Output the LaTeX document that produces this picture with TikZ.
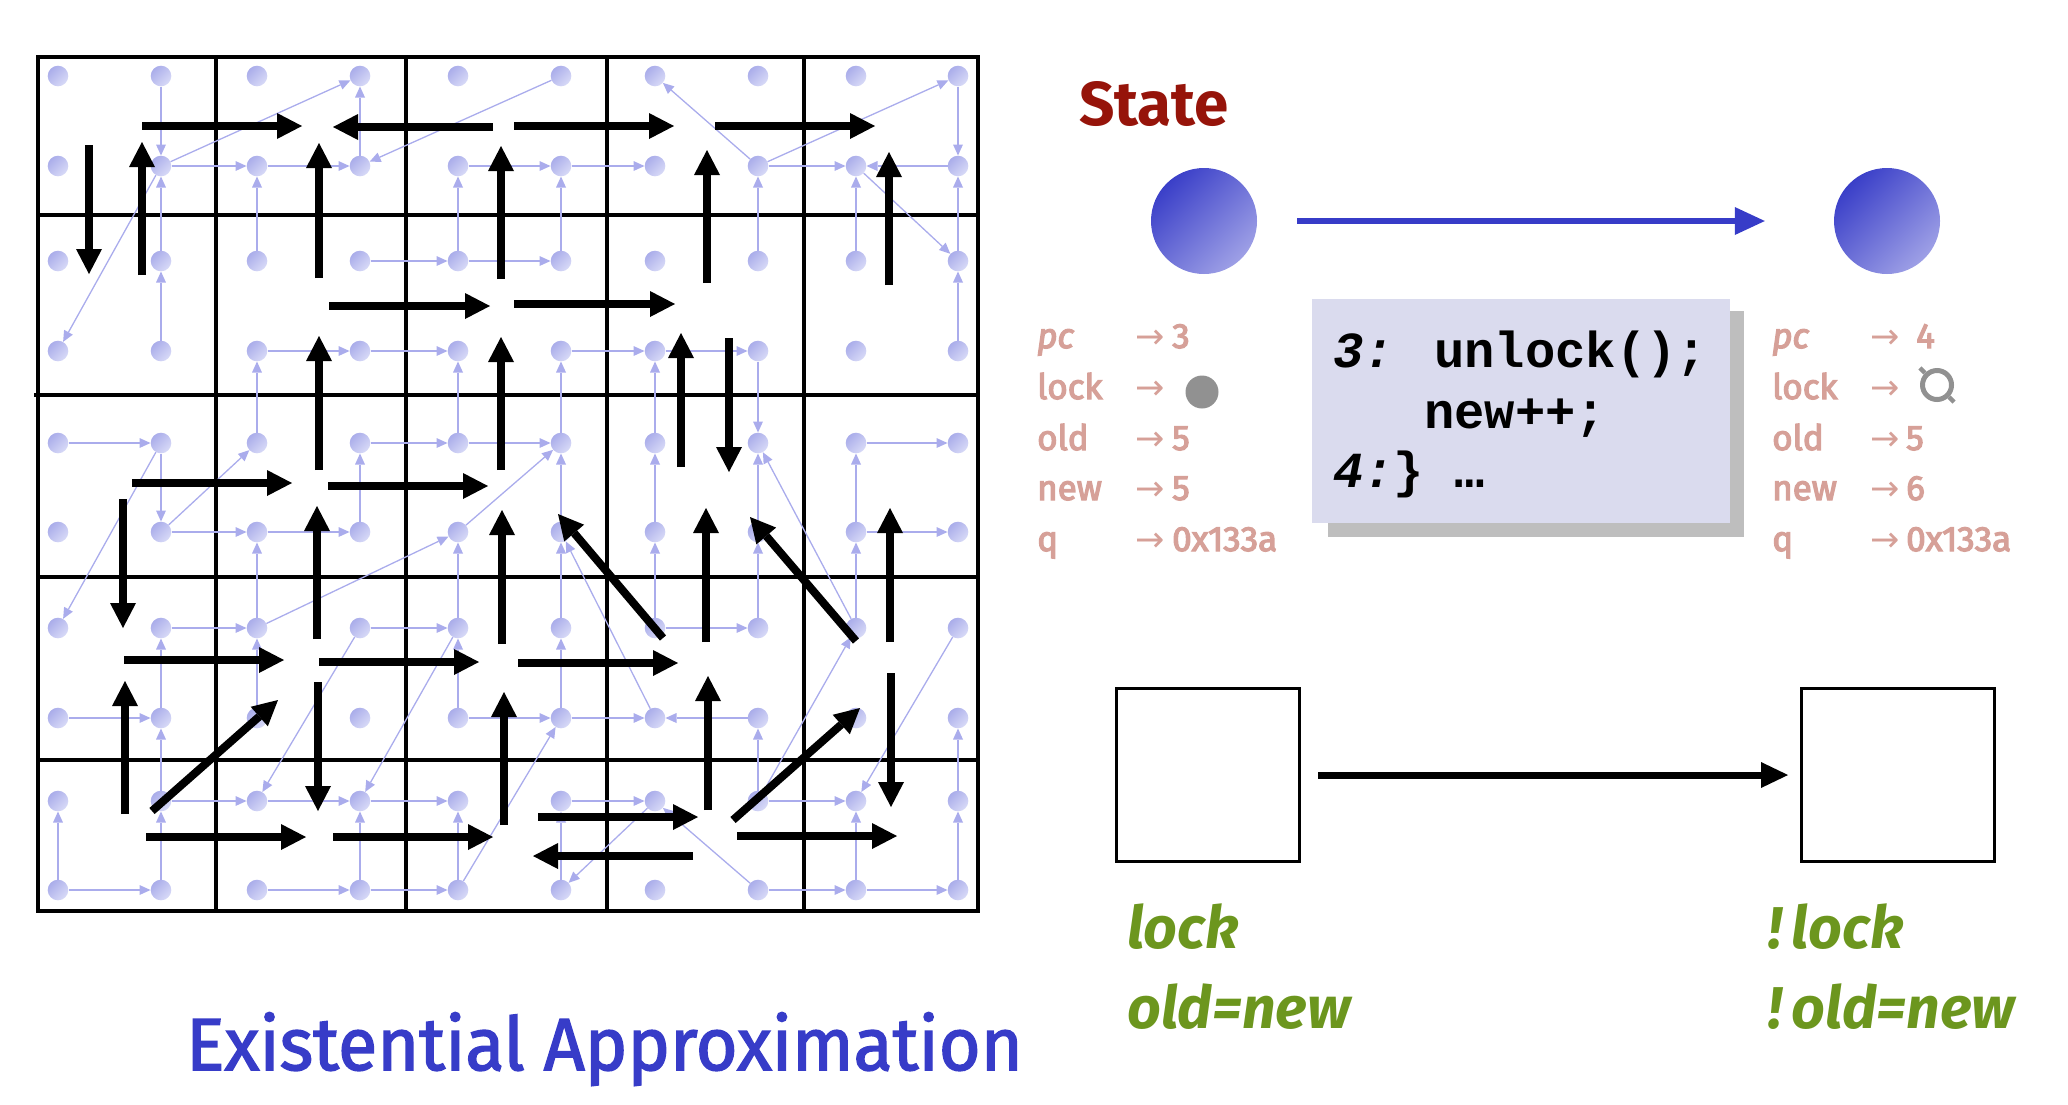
\documentclass[tikz,border=0pt]{standalone}
\usepackage{fontspec}
\setmainfont{Fira Sans}
\newfontfamily\codefont{Liberation Mono}
\newfontfamily\symfont{DejaVu Sans}
\newfontfamily\approxfont{Fira Sans}[FakeBold=2]
\newfontfamily\varfont{Fira Sans}[FakeBold=3.5]
\usetikzlibrary{arrows.meta}
\definecolor{dotA}{RGB}{170,173,234}
\definecolor{dotB}{RGB}{216,218,247}
\definecolor{thinc}{RGB}{170,172,236}
\definecolor{varc}{RGB}{214,160,152}
\definecolor{titlered}{RGB}{150,20,10}
\definecolor{ballA}{RGB}{58,63,200}
\definecolor{ballB}{RGB}{158,160,230}
\definecolor{bluearr}{RGB}{55,60,200}
\definecolor{codebg}{RGB}{218,219,238}
\definecolor{shadowc}{RGB}{190,190,190}
\definecolor{greenc}{RGB}{108,150,30}
\definecolor{approxc}{RGB}{55,60,200}
\definecolor{lockgray}{RGB}{145,145,145}
\begin{document}
\begin{tikzpicture}[x=1pt,y=-1pt,
  gridline/.style={line width=3.5pt, black},
  dotnode/.style={circle, inner sep=0pt, minimum size=20.6pt, draw=none, top color=dotA, bottom color=dotB, shading angle=45},
  thinarr/.style={color=thinc, line width=1.3pt, -{Triangle[length=11pt,width=10pt,line width=0pt]}},
  bigarrow/.style={line width=8pt, black, -{Triangle[length=25pt,width=26pt,line width=0pt]}},
  ball/.style={circle, inner sep=0pt, minimum size=106pt, draw=none, top color=ballA, bottom color=ballB, shading angle=45},
  varlbl/.style={anchor=base west, inner sep=0pt, text=varc, font=\varfont\fontsize{35}{40}\selectfont},
  codetxt/.style={anchor=base west, inner sep=0pt, font=\codefont\bfseries\fontsize{50.5}{60}\selectfont},
  greentxt/.style={anchor=base west, inner sep=0pt, text=greenc, font=\fontsize{59}{66}\selectfont\bfseries\itshape},
  statebox/.style={draw=black, line width=3pt, inner sep=0pt, fill=white}
]
\useasboundingbox (0,0) rectangle (2068,1104);

% ---------- grid ----------
\draw[gridline] (38,57) rectangle (978,911);
\foreach \gx in {216,406,607,804} \draw[gridline] (\gx,57) -- (\gx,911);
\foreach \gy in {215,395,577,760} \draw[gridline] (38,\gy) -- (978,\gy);
\draw[gridline] (34,395) -- (38,395);

% ---------- dots ----------
\foreach \px [count=\i from 0] in {58,161,257,360,458,561,655,758,856,958}
  \foreach \py [count=\j from 0] in {76,166,261,351,443,532,628,718,801,890}
    \node[dotnode] (d\i-\j) at (\px,\py) {};

% ---------- thin arrows ----------
\foreach \a/\b/\c/\d in {
 1/0/1/1, 1/1/3/0, 1/1/2/1, 2/1/3/1, 3/1/3/0, 5/0/3/1, 1/1/0/3, 1/2/1/1, 1/3/1/2,
 2/2/2/1, 3/2/4/2, 4/2/4/1, 4/1/5/1, 5/1/6/1, 4/2/5/2, 5/2/5/1, 2/3/3/3, 3/3/4/3,
 2/4/2/3, 4/4/4/3, 5/3/6/3, 6/3/7/3, 5/4/5/3, 6/4/6/3, 7/3/7/4, 0/4/1/4, 3/4/4/4,
 4/4/5/4, 1/4/1/5, 1/4/0/6, 1/5/2/4, 3/5/3/4, 7/1/6/0, 7/1/9/0, 7/1/8/1, 9/1/8/1,
 9/0/9/1, 7/2/7/1, 8/2/8/1, 8/1/9/2, 9/2/9/1, 9/3/9/2, 8/4/9/4, 6/5/6/4, 7/5/7/4,
 8/6/7/4, 8/5/8/4, 4/5/5/4, 5/5/5/4, 1/5/2/5, 2/5/3/5, 2/6/2/5, 2/6/4/5, 4/6/4/5,
 1/6/2/6, 3/6/4/6, 1/7/1/6, 2/7/2/6, 0/7/1/7, 1/8/1/7, 4/7/4/6, 4/7/5/7, 3/6/2/8,
 4/6/3/8, 1/8/2/8, 2/8/3/8, 3/8/4/8, 4/9/4/8, 3/9/3/8, 0/9/0/8, 1/9/1/8, 0/9/1/9,
 2/9/3/9, 3/9/4/9, 4/9/5/7, 5/6/5/5, 6/7/5/5, 6/6/6/5, 7/6/7/5, 6/6/7/6, 5/7/5/6,
 5/7/6/7, 7/7/6/7, 7/8/7/7, 7/8/8/6, 8/6/8/5, 8/5/9/5, 9/6/8/8, 9/8/9/7, 5/8/6/8,
 5/9/5/8, 6/8/5/9, 7/9/6/8, 7/8/8/8, 8/9/8/8, 9/9/9/8, 7/9/8/9, 8/9/9/9}
  \draw[thinarr] (d\a-\b) -- (d\c-\d);

% ---------- thick arrows ----------
\foreach \sx/\sy/\tx/\ty in {
 142/126/302/126, 493/127/333/127, 89/145/89/274, 142/275/142/142,
 319/278/319/143, 501/279/501/146, 329/306/490/306, 319/470/319/336,
 501/470/501/337, 132/483/292/483, 328/486/488/486, 514/126/674/126,
 715/126/875/126, 707/283/707/150, 889/285/889/152, 514/304/675/304,
 681/467/681/333, 729/338/729/472, 123/499/123/628, 317/639/317/506,
 502/644/502/510, 124/660/284/660, 319/662/479/662, 125/814/125/681,
 152/811/278/700, 318/682/318/811, 504/825/504/692, 146/837/306/837,
 333/837/493/837, 663/638/558/514, 706/642/706/508, 856/641/750/517,
 890/642/890/508, 518/663/678/663, 708/810/708/676, 733/820/860/708,
 891/673/891/807, 538/817/698/817, 693/856/533/856, 737/836/897/836}
  \draw[bigarrow] (\sx,\sy) -- (\tx,\ty);

% ---------- caption ----------
\node[anchor=base west, inner sep=0pt, text=approxc, font=\approxfont\fontsize{74}{80}\selectfont] (approx) at (186,1070) {\scalebox{0.97}[1]{Existential Approximation}};

% ---------- State ----------
\node[anchor=base west, inner sep=0pt, text=titlered, font=\fontsize{62}{70}\selectfont\bfseries] (title) at (1079,125) {State};
\node[ball] (s1) at (1204,221) {};
\node[ball] (s2) at (1887,221) {};
\draw[line width=6pt, bluearr, -{Triangle[length=30pt,width=28pt,line width=0pt]}, shorten <=40pt, shorten >=69pt] (s1) -- (s2);

% left variables
\node[varlbl] (lpc) at (1037,348) {\itshape pc};
\node[varlbl] (lpcA) at (1135,348) {\symfont →};
\node[varlbl] (lpcV) at (1172,348) {3};
\node[varlbl] (llock) at (1037,399) {lock};
\node[varlbl] (llockA) at (1135,399) {\symfont →};
\node[circle, fill=lockgray, inner sep=0pt, minimum size=33pt] (llockV) at (1202,392) {};
\node[varlbl] (lold) at (1037,450) {old};
\node[varlbl] (loldA) at (1135,450) {\symfont →};
\node[varlbl] (loldV) at (1172,450) {5};
\node[varlbl] (lnew) at (1037,500) {new};
\node[varlbl] (lnewA) at (1135,500) {\symfont →};
\node[varlbl] (lnewV) at (1172,500) {5};
\node[varlbl] (lq) at (1037,551) {q};
\node[varlbl] (lqA) at (1135,551) {\symfont →};
\node[varlbl] (lqV) at (1172,551) {0x133a};

% right variables
\node[varlbl] (rpc) at (1772,348) {\itshape pc};
\node[varlbl] (rpcA) at (1870,348) {\symfont →};
\node[varlbl] (rpcV) at (1916,348) {4};
\node[varlbl] (rlock) at (1772,399) {lock};
\node[varlbl] (rlockA) at (1870,399) {\symfont →};
\node[circle, draw=lockgray, line width=5pt, inner sep=0pt, minimum size=29pt] (rlockV) at (1937,385) {};
\draw[lockgray, line width=4.5pt] (rlockV.135) -- ++(-5,-5);
\draw[lockgray, line width=4.5pt] (rlockV.-45) -- ++(5,5);
\node[varlbl] (rold) at (1772,450) {old};
\node[varlbl] (roldA) at (1870,450) {\symfont →};
\node[varlbl] (roldV) at (1906,450) {5};
\node[varlbl] (rnew) at (1772,500) {new};
\node[varlbl] (rnewA) at (1870,500) {\symfont →};
\node[varlbl] (rnewV) at (1906,500) {6};
\node[varlbl] (rq) at (1772,551) {q};
\node[varlbl] (rqA) at (1870,551) {\symfont →};
\node[varlbl] (rqV) at (1906,551) {0x133a};

% code box
\fill[shadowc] (1328,311) rectangle (1744,537);
\node[fill=codebg, inner sep=0pt, minimum width=418pt, minimum height=224pt, anchor=north west] (code) at (1312,299) {};
\node[codetxt] (c1) at (1333,367) {\itshape 3:\upshape{} unlock();};
\node[codetxt] (c2) at (1424,428) {new++;};
\node[codetxt] (c3) at (1333,487) {\itshape 4:\upshape\}\ …};

% abstract states
\node[statebox, minimum width=183pt, minimum height=173pt] (b1) at (1208,775) {};
\node[statebox, minimum width=193pt, minimum height=173pt] (b2) at (1898,775) {};
\draw[line width=7pt, black, -{Triangle[length=27pt,width=26pt,line width=0pt]}, shorten <=17pt, shorten >=12pt] (b1) -- (b2);

\node[greentxt] (g1) at (1127,948) {lock};
\node[greentxt] (g2) at (1127,1028) {old=new};
\node[greentxt] (g3) at (1768,948) {!\,lock};
\node[greentxt] (g4) at (1768,1028) {!\,old=new};
\end{tikzpicture}
\end{document}
